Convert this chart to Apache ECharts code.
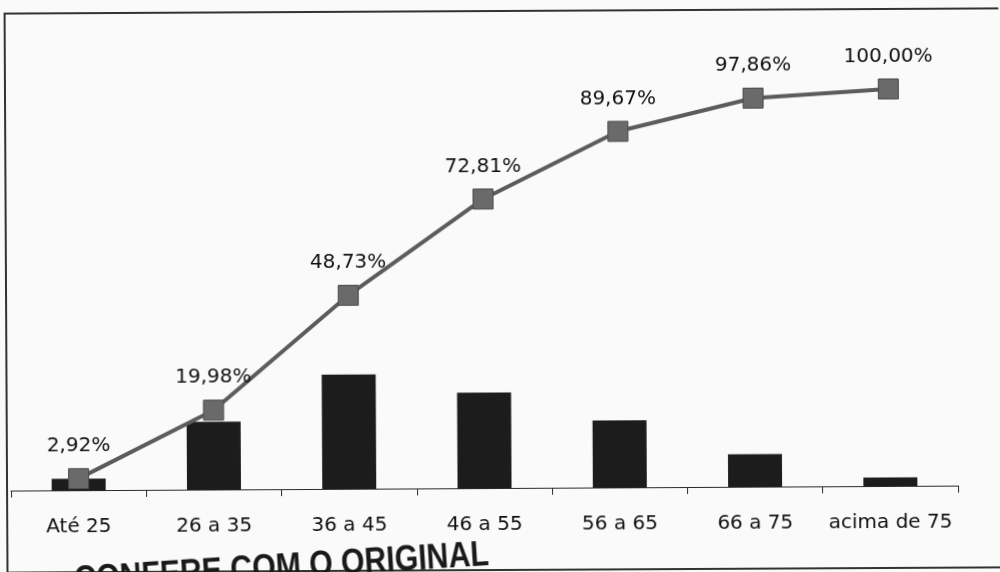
<!DOCTYPE html>
<html>
<head>
<meta charset="utf-8">
<script src="https://cdn.jsdelivr.net/npm/echarts@6/dist/echarts.min.js"></script>
<style>
    html, body { margin: 0; padding: 0; background: #fafafa; overflow: hidden; }
    /* o papel foi digitalizado levemente torto */
    #main { width: 1000px; height: 572px; transform: rotate(-0.3deg); }
</style>
</head>
<body>
<div id="main"></div>
<script>
// faixas etárias
var categories = ['Até 25', '26 a 35', '36 a 45', '46 a 55', '56 a 65', '66 a 75', 'acima de 75'];
// percentual de cada faixa (barras)
var barValues = [2.92, 17.06, 28.75, 24.08, 16.86, 8.19, 2.14];
// percentual acumulado (linha)
var cumulative = [2.92, 19.98, 48.73, 72.81, 89.67, 97.86, 100.00];

var font = 'DejaVu Sans';

function pct(v) {
    return v.toFixed(2).replace('.', ',') + '%';
}

var myChart = echarts.init(document.getElementById('main'));

option = {
    backgroundColor: '#fafafa',
    animation: false,
    grid: {
        left: 10,
        right: 43,
        top: 91,
        bottom: 84
    },
    xAxis: {
        type: 'category',
        data: categories,
        axisLine: { lineStyle: { color: '#2a2a2a', width: 1.2 } },
        axisTick: { show: true, alignWithLabel: false, length: 7, lineStyle: { color: '#2a2a2a', width: 1 } },
        axisLabel: {
            interval: 0,
            color: '#111',
            fontSize: 20,
            fontFamily: font,
            margin: 27
        }
    },
    yAxis: {
        type: 'value',
        min: 0,
        max: 100,
        show: false
    },
    // moldura e carimbo
    graphic: [
        {
            type: 'rect',
            shape: { x: 6, y: 11, width: 1010, height: 559 },
            style: { fill: 'none', stroke: '#333', lineWidth: 2 },
            silent: true
        },
        {
            type: 'text',
            x: 72,
            y: 561,
            rotation: 0.058,
            scaleX: 0.84,
            style: {
                text: 'CONFERE COM O ORIGINAL',
                font: 'bold 36px "Liberation Sans", sans-serif',
                fill: '#1a1a1a',
                textAlign: 'left',
                textVerticalAlign: 'top'
            },
            silent: true
        }
    ],
    series: [
        {
            name: 'Faixa',
            type: 'bar',
            data: barValues,
            barWidth: 54,
            itemStyle: { color: '#1c1c1c' }
        },
        {
            name: 'Acumulado',
            type: 'line',
            data: cumulative,
            symbol: 'rect',
            symbolSize: 20,
            lineStyle: { color: '#5c5c5c', width: 4 },
            itemStyle: { color: '#6a6a6a', borderColor: '#4a4a4a', borderWidth: 1 },
            label: {
                show: true,
                position: 'top',
                distance: 12,
                color: '#111',
                fontSize: 20,
                fontFamily: font,
                formatter: function (p) { return pct(p.value); }
            },
            z: 3
        }
    ]
};

myChart.setOption(option);
</script>
</body>
</html>
